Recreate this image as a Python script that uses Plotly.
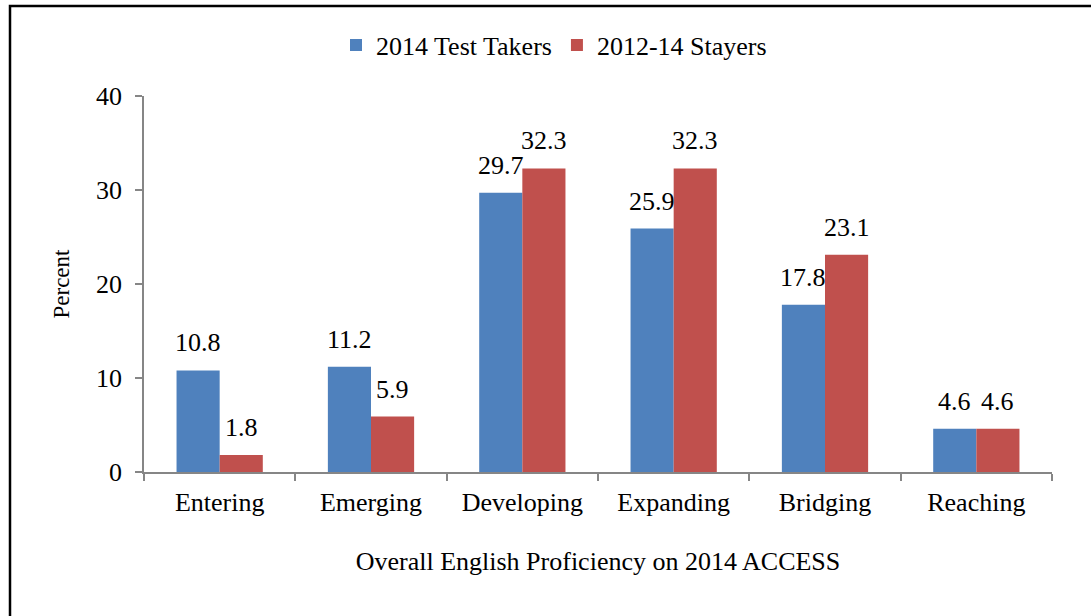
import plotly.graph_objects as go

categories = ["Entering", "Emerging", "Developing", "Expanding", "Bridging", "Reaching"]
test_takers = [10.8, 11.2, 29.7, 25.9, 17.8, 4.6]
stayers = [1.8, 5.9, 32.3, 32.3, 23.1, 4.6]
series_names = ["2014 Test Takers", "2012-14 Stayers"]
y_ticks = [0, 10, 20, 30, 40]

W, H = 1091, 616
L, R, T, B = 144, 39, 96, 144
pw, ph = W - L - R, H - T - B
BARGAP = 0.43

FONT = "Liberation Serif, Times New Roman, serif"
AX = "#868686"

fig = go.Figure()
series = [(series_names[0], test_takers, "#4F81BD"), (series_names[1], stayers, "#C0504D")]
for name, vals, col in series:
    fig.add_trace(go.Bar(
        x=categories, y=vals, name=name, marker=dict(color=col, line=dict(width=0)),
    ))

# value labels above bars (offset to each bar within its group)
bar_px = pw / len(categories) * (1 - BARGAP) / 2
annotations = []
for i, (name, vals, col) in enumerate(series):
    shift = (i - 0.5) * bar_px
    for c, v in zip(categories, vals):
        annotations.append(dict(x=c, y=v, xref="x", yref="y", text=f"{v:.1f}", showarrow=False,
                                yanchor="bottom", xanchor="center", xshift=shift, yshift=11,
                                font=dict(family=FONT, size=26, color="black")))

def px_x(p):
    return (p - L) / pw

def px_y(p):
    return (H - B - p) / ph

fig.update_layout(
    width=W, height=H, autosize=False,
    margin=dict(l=L, r=R, t=T, b=B),
    paper_bgcolor="white", plot_bgcolor="white",
    barmode="group", bargap=BARGAP, bargroupgap=0,
    font=dict(family=FONT, size=26, color="black"),
    showlegend=True,
    legend=dict(orientation="h", x=px_x(554), xanchor="center", y=px_y(45), yanchor="middle",
                font=dict(family=FONT, size=26), itemwidth=30, tracegroupgap=0),
    xaxis=dict(showline=True, linecolor=AX, linewidth=1.5, ticks="outside", tickcolor=AX,
               ticklen=7, tickwidth=1.5, tickson="boundaries", showgrid=False,
               tickfont=dict(family=FONT, size=26), ticklabelstandoff=6,
               title=dict(text="Overall English Proficiency on 2014 ACCESS", standoff=36,
                          font=dict(family=FONT, size=26))),
    yaxis=dict(range=[0, 40], tickvals=y_ticks, showline=True, linecolor=AX, linewidth=1.5,
               ticks="outside", tickcolor=AX, ticklen=7, tickwidth=1.5, showgrid=False,
               zeroline=False, tickfont=dict(family=FONT, size=26), ticklabelstandoff=8,
               title=dict(text="Percent", standoff=20, font=dict(family=FONT, size=23))),
    annotations=annotations,
    shapes=[dict(type="rect", xref="paper", yref="paper",
                 x0=px_x(10), x1=px_x(1110), y0=px_y(640), y1=px_y(6),
                 line=dict(color="black", width=2.5), fillcolor="rgba(0,0,0,0)")],
)

fig.write_html("out.html", config={"displayModeBar": False},
               post_script="document.body.style.margin='0';")
